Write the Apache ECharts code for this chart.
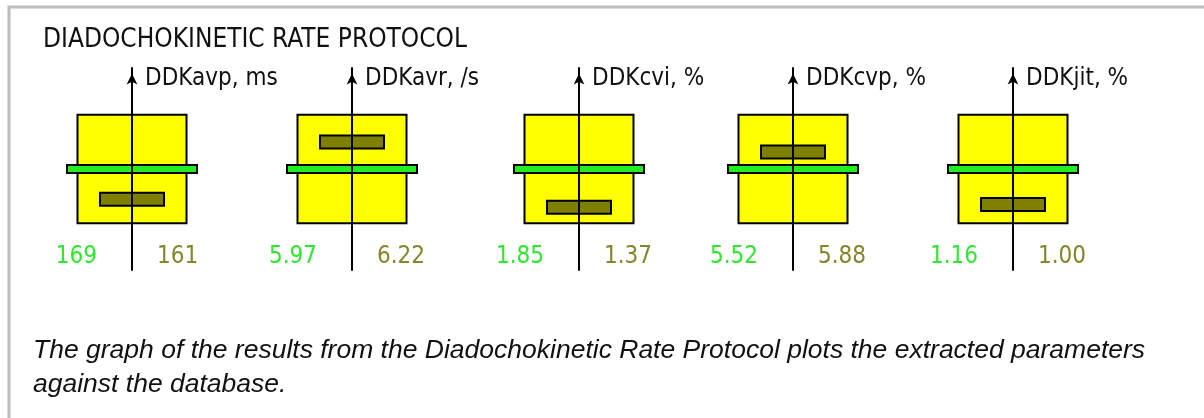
<!DOCTYPE html>
<html>
<head>
<meta charset="utf-8">
<script src="https://cdn.jsdelivr.net/npm/echarts@6/dist/echarts.min.js"></script>
<style>
  html, body { margin: 0; padding: 0; background: #ffffff; }
  #chart { width: 1204px; height: 418px; }
</style>
</head>
<body>
<div id="chart"></div>
<script>
// Diadochokinetic rate parameters: database norm vs. measured values
const parameters = ['DDKavp, ms', 'DDKavr, /s', 'DDKcvi, %', 'DDKcvp, %', 'DDKjit, %'];
const normValues = [169, 5.97, 1.85, 5.52, 1.16];
const patientValues = [161, 6.22, 1.37, 5.88, 1.00];
// normative range (yellow box) for each parameter
const normLow = [154.7, 5.47, 1.17, 4.37, 0.915];
const normHigh = [183.3, 6.47, 2.53, 6.67, 1.405];
const decimals = [0, 2, 2, 2, 2];

const titleText = 'DIADOCHOKINETIC RATE PROTOCOL';
const captionText = 'The graph of the results from the Diadochokinetic Rate Protocol plots the extracted parameters\nagainst the database.';

// layout
const panelCenters = [132, 352, 579, 793, 1013];
const GRID_TOP = 68;
const GRID_HEIGHT = 202;
const NARROW = '"DejaVu Sans Condensed", "Liberation Sans Narrow", "Liberation Sans", sans-serif';
const GREEN = '#22ee22';
const GREEN_TEXT = '#2ee82e';
const OLIVE = '#808000';
const OLIVE_TEXT = '#85852a';

const grids = [], xAxes = [], yAxes = [], series = [];

parameters.forEach((name, i) => {
  const span = normHigh[i] - normLow[i];
  grids.push({ left: panelCenters[i] - 110, width: 220, top: GRID_TOP, height: GRID_HEIGHT });
  xAxes.push({ gridIndex: i, type: 'value', min: -1, max: 1, show: false });
  yAxes.push({
    gridIndex: i,
    type: 'value',
    min: normLow[i] - span * 0.431,
    max: normHigh[i] + span * 0.431,
    z: 10,
    name: name,
    nameLocation: 'end',
    nameGap: -11,
    nameTextStyle: {
      align: 'left', verticalAlign: 'middle', padding: [0, 0, 0, 13],
      fontFamily: NARROW, fontSize: 24, color: '#111'
    },
    axisLine: {
      show: true, onZero: true,
      symbol: ['none', 'arrow'], symbolSize: [8, 11], symbolOffset: [0, -5.5],
      lineStyle: { color: '#000', width: 2 }
    },
    axisTick: { show: false },
    axisLabel: { show: false },
    splitLine: { show: false }
  });
  series.push({
    type: 'custom',
    xAxisIndex: i,
    yAxisIndex: i,
    silent: true,
    data: [[normLow[i], normHigh[i], normValues[i], patientValues[i], decimals[i]]],
    renderItem: (params, api) => {
      const cx = api.coord([0, api.value(2)])[0];
      const yLow = api.coord([0, api.value(0)])[1];
      const yHigh = api.coord([0, api.value(1)])[1];
      const yNorm = api.coord([0, api.value(2)])[1];
      const yPat = api.coord([0, api.value(3)])[1];
      const d = api.value(4);
      const stroke = { stroke: '#000', lineWidth: 2 };
      return {
        type: 'group',
        children: [
          { type: 'rect', shape: { x: cx - 54.5, y: yHigh, width: 109, height: yLow - yHigh },
            style: Object.assign({ fill: '#ffff00' }, stroke) },
          { type: 'rect', shape: { x: cx - 65, y: yNorm - 4, width: 130, height: 8 },
            style: Object.assign({ fill: GREEN }, stroke) },
          { type: 'rect', shape: { x: cx - 32, y: yPat - 6.5, width: 64, height: 13 },
            style: Object.assign({ fill: OLIVE }, stroke) },
          { type: 'text', x: cx - 35, y: yLow + 34,
            style: { text: api.value(2).toFixed(d), align: 'right', verticalAlign: 'middle',
                     fill: GREEN_TEXT, fontFamily: NARROW, fontSize: 24 } },
          { type: 'text', x: cx + 25, y: yLow + 34,
            style: { text: api.value(3).toFixed(d), align: 'left', verticalAlign: 'middle',
                     fill: OLIVE_TEXT, fontFamily: NARROW, fontSize: 24 } }
        ]
      };
    }
  });
});

const chart = echarts.init(document.getElementById('chart'), null, { renderer: 'canvas' });
chart.setOption({
  animation: false,
  backgroundColor: '#ffffff',
  title: [
    { text: titleText, left: 38, top: 22,
      textStyle: { fontFamily: NARROW, fontSize: 26, fontWeight: 'normal', color: '#111' } },
    { text: captionText, left: 28, top: 329,
      textStyle: { fontFamily: '"Liberation Sans", Arial, sans-serif', fontStyle: 'italic',
                   fontSize: 26.5, fontWeight: 'normal', color: '#111', lineHeight: 34 } }
  ],
  graphic: [
    { type: 'rect', silent: true, z: -1,
      shape: { x: 9, y: 7, width: 1400, height: 600 },
      style: { fill: 'none', stroke: '#bdbdbd', lineWidth: 3 } }
  ],
  grid: grids,
  xAxis: xAxes,
  yAxis: yAxes,
  series: series
});
</script>
</body>
</html>
